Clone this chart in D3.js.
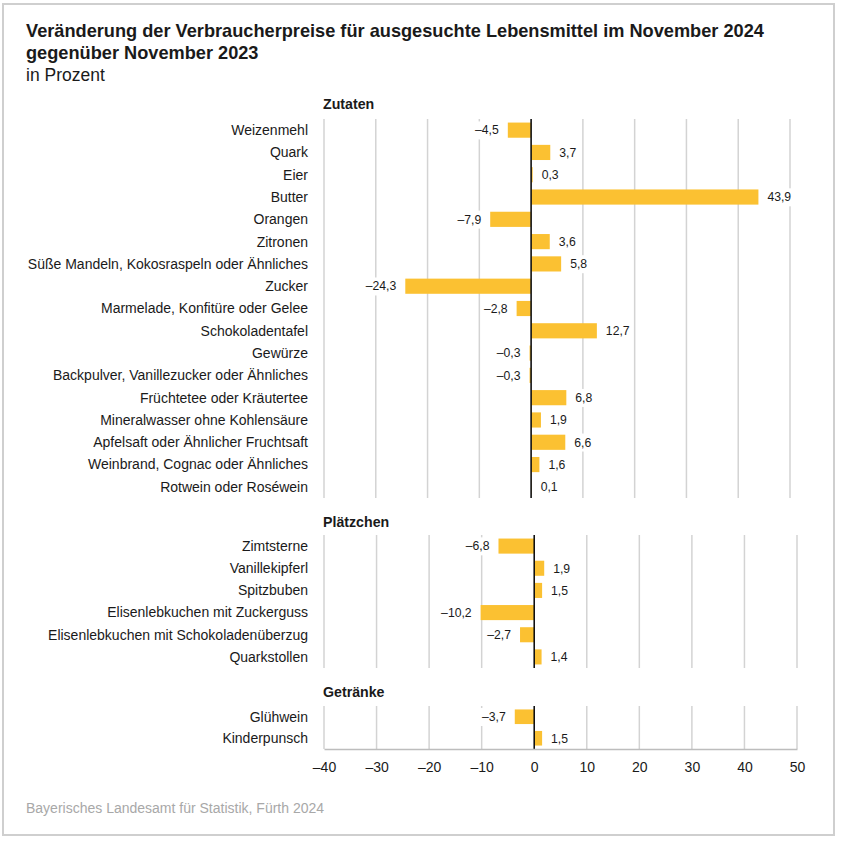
<!DOCTYPE html>
<html>
<head>
<meta charset="utf-8">
<script src="https://cdn.jsdelivr.net/npm/d3@7"></script>
<style>
  html, body { margin: 0; padding: 0; background: #fff; }
  svg { display: block; font-family: "Liberation Sans", Arial, Helvetica, sans-serif; }
</style>
</head>
<body>
<svg id="chart" width="841" height="841"></svg>
<script>
// ---- data ----
const zutatenCategories = [
  "Weizenmehl", "Quark", "Eier", "Butter", "Orangen", "Zitronen",
  "Süße Mandeln, Kokosraspeln oder Ähnliches", "Zucker",
  "Marmelade, Konfitüre oder Gelee", "Schokoladentafel", "Gewürze",
  "Backpulver, Vanillezucker oder Ähnliches", "Früchtetee oder Kräutertee",
  "Mineralwasser ohne Kohlensäure", "Apfelsaft oder Ähnlicher Fruchtsaft",
  "Weinbrand, Cognac oder Ähnliches", "Rotwein oder Roséwein"
];
const zutatenValues = [-4.5, 3.7, 0.3, 43.9, -7.9, 3.6, 5.8, -24.3, -2.8, 12.7, -0.3, -0.3, 6.8, 1.9, 6.6, 1.6, 0.1];

const plaetzchenCategories = [
  "Zimtsterne", "Vanillekipferl", "Spitzbuben", "Elisenlebkuchen mit Zuckerguss",
  "Elisenlebkuchen mit Schokoladenüberzug", "Quarkstollen"
];
const plaetzchenValues = [-6.8, 1.9, 1.5, -10.2, -2.7, 1.4];

const getraenkeCategories = ["Glühwein", "Kinderpunsch"];
const getraenkeValues = [-3.7, 1.5];

const xTicks = [-40, -30, -20, -10, 0, 10, 20, 30, 40, 50];
const xDomain = [-40, 50];

const titleLines = [
  "Veränderung der Verbraucherpreise für ausgesuchte Lebensmittel im November 2024",
  "gegenüber November 2023"
];
const subtitle = "in Prozent";
const source = "Bayerisches Landesamt für Statistik, Fürth 2024";

// ---- layout ----
const svg = d3.select("#chart");
const BAR = "#fbc132";
const GRID = "#d3d3d3";
const TEXT = "#1a1a1a";

const fmt = v => {
  const s = Math.abs(v).toFixed(1).replace(".", ",");
  return v < 0 ? "\u2013" + s : s;
};
const tickFmt = v => v < 0 ? "\u2013" + Math.abs(v) : String(v);

// frame
svg.append("rect").attr("x", 3).attr("y", 4).attr("width", 831).attr("height", 831)
  .attr("fill", "none").attr("stroke", "#cfcfcf").attr("stroke-width", 2);

// titles
const t = svg.append("text").attr("x", 26).attr("fill", TEXT)
  .attr("font-size", 18.2).attr("font-weight", "bold");
titleLines.forEach((line, i) => {
  t.append("tspan").attr("x", 26).attr("y", 37 + i * 21.5).text(line);
});
svg.append("text").attr("x", 26).attr("y", 81).attr("fill", TEXT)
  .attr("font-size", 17.5).text(subtitle);

svg.append("text").attr("x", 26).attr("y", 813).attr("fill", "#a8a8a8")
  .attr("font-size", 14).text(source);

const sections = [
  { name: "Zutaten", cats: zutatenCategories, vals: zutatenValues,
    headerY: 109, top: 119, bottom: 498, xr: [324, 790] },
  { name: "Plätzchen", cats: plaetzchenCategories, vals: plaetzchenValues,
    headerY: 527, top: 535, bottom: 668, xr: [324, 797] },
  { name: "Getränke", cats: getraenkeCategories, vals: getraenkeValues,
    headerY: 697, top: 706, bottom: 749, xr: [324, 797] }
];

let lastX;
sections.forEach(sec => {
  const x = d3.scaleLinear().domain(xDomain).range(sec.xr);
  lastX = x;
  const y = d3.scaleBand().domain(sec.cats).range([sec.top, sec.bottom])
    .paddingInner(0.32).paddingOuter(0.16);
  const g = svg.append("g");

  // header
  g.append("text").attr("x", sec.xr[0] - 1).attr("y", sec.headerY)
    .attr("font-size", 14.2).attr("font-weight", "bold").attr("fill", TEXT).text(sec.name);

  // grid
  g.selectAll("line.grid").data(xTicks.filter(d => d !== 0)).join("line")
    .attr("class", "grid")
    .attr("x1", d => x(d)).attr("x2", d => x(d))
    .attr("y1", sec.top).attr("y2", sec.bottom)
    .attr("stroke", GRID).attr("stroke-width", 1.5);

  // category labels
  g.selectAll("text.cat").data(sec.cats).join("text")
    .attr("class", "cat")
    .attr("x", 308).attr("y", d => y(d) + y.bandwidth() / 2)
    .attr("dy", "0.35em").attr("text-anchor", "end")
    .attr("font-size", 14).attr("fill", TEXT).text(d => d);

  const data = sec.cats.map((c, i) => ({ c, v: sec.vals[i] }));

  // bars
  g.selectAll("rect.bar").data(data).join("rect")
    .attr("class", "bar")
    .attr("x", d => x(Math.min(0, d.v)))
    .attr("width", d => Math.abs(x(d.v) - x(0)))
    .attr("y", d => y(d.c)).attr("height", y.bandwidth())
    .attr("fill", BAR);

  // zero line
  g.append("line").attr("x1", x(0)).attr("x2", x(0))
    .attr("y1", sec.top).attr("y2", sec.bottom)
    .attr("stroke", "#111").attr("stroke-width", 1.6);

  // value labels with white background
  const lab = g.selectAll("g.val").data(data).join("g").attr("class", "val");
  const txt = lab.append("text")
    .attr("x", d => d.v < 0 ? x(d.v) - 9 : x(d.v) + 9)
    .attr("y", d => y(d.c) + y.bandwidth() / 2)
    .attr("dy", "0.35em")
    .attr("text-anchor", d => d.v < 0 ? "end" : "start")
    .attr("font-size", 12.2).attr("fill", TEXT)
    .text(d => fmt(d.v));
  txt.each(function () {
    const b = this.getBBox();
    d3.select(this.parentNode).insert("rect", "text")
      .attr("x", b.x - 3).attr("y", b.y - 2)
      .attr("width", b.width + 6).attr("height", b.height + 4)
      .attr("fill", "#fff");
  });
});

// bottom axis
const axis = d3.axisBottom(lastX).tickValues(xTicks).tickFormat(tickFmt)
  .tickSize(0).tickPadding(13);
const ax = svg.append("g").attr("transform", "translate(0,749)").call(axis);
ax.select(".domain").attr("stroke", "#bdbdbd").attr("stroke-width", 1.5);
ax.selectAll("text").attr("font-size", 14).attr("fill", TEXT)
  .attr("font-family", "'Liberation Sans', Arial, sans-serif");
</script>
</body>
</html>
